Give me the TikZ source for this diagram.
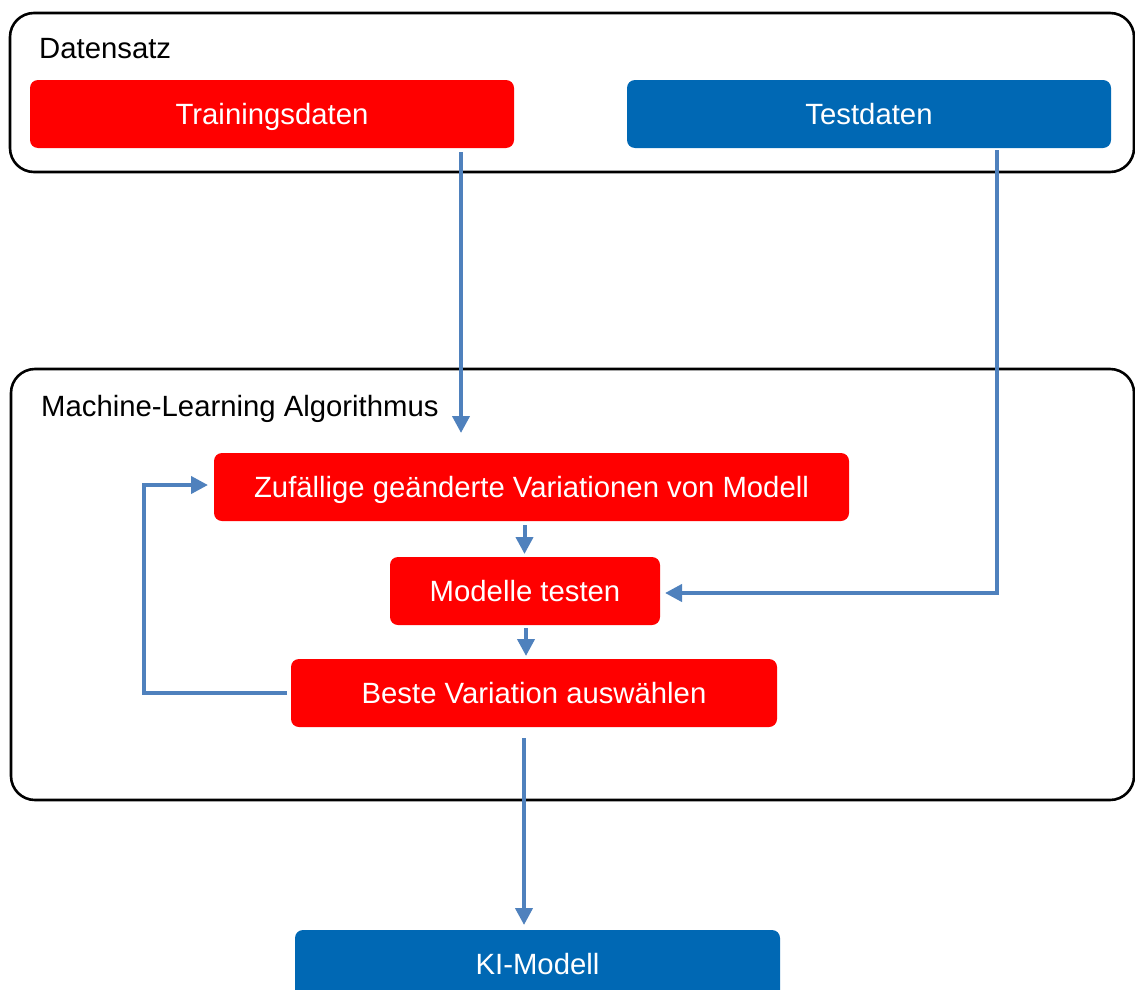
\documentclass[tikz,border=0pt]{standalone}
\usepackage{fontspec}
\setmainfont{Liberation Sans}
\usetikzlibrary{arrows.meta,calc}
\definecolor{bred}{RGB}{255,0,0}
\definecolor{bblue}{RGB}{0,104,180}
\definecolor{arrc}{RGB}{79,129,189}
\tikzset{
  container/.style={draw=black, line width=2.6pt, rounded corners=24pt, anchor=north west, inner sep=0pt, outer sep=0pt},
  boxtxt/.style={text=white, rounded corners=8pt, font=\fontsize{29.3}{34}\selectfont, inner sep=0pt, outer sep=0pt, text height=27pt, text depth=6pt},
  redbox/.style={boxtxt, fill=bred},
  bluebox/.style={boxtxt, fill=bblue},
  lbl/.style={font=\fontsize{29.3}{34}\selectfont, anchor=west, inner sep=0pt, text height=27pt, text depth=6pt},
  arr/.style={draw=arrc, line width=4pt, -{Triangle[width=17pt,length=17pt]}}
}
\begin{document}
\begin{tikzpicture}[x=1pt,y=-1pt]
\useasboundingbox (0,0) rectangle (1135,990);
\clip (0,0) rectangle (1135,990);
% containers
\node[container, minimum width=1124pt, minimum height=159pt] (ds) at (10,13) {};
\node[container, minimum width=1123pt, minimum height=431pt] (ml) at (11,369) {};
\node[lbl] (dslbl) at (39,48) {Datensatz};
\node[lbl] (mllbl) at (41,406) {Machine-Learning Algorithmus};
% boxes
\node[redbox, minimum width=484pt, minimum height=68pt] (train) at (272,114) {Trainingsdaten};
\node[bluebox, minimum width=484pt, minimum height=68pt] (test) at (869,114) {Testdaten};
\node[redbox, minimum width=635pt, minimum height=68pt] (zuf) at (531.5,487) {Zufällige geänderte Variationen von Modell};
\node[redbox, minimum width=270pt, minimum height=68pt] (mod) at (525,591) {Modelle testen};
\node[redbox, minimum width=486pt, minimum height=68pt] (best) at (534,693) {Beste Variation auswählen};
\node[bluebox, minimum width=485pt, minimum height=68pt] (ki) at (537.5,964) {KI-Modell};
% connector coordinates
\coordinate (a1s) at ($(train.south)+(189,4)$);
\coordinate (a1e) at ($(zuf.north)+(-70.5,-20)$);
\coordinate (a2s) at ($(test.south)+(128,2)$);
\coordinate (a2e) at ($(mod.east)+(5,2)$);
\coordinate (b1s) at ($(zuf.south)+(-7,4)$);
\coordinate (b1e) at ($(mod.north)+(-1,-3)$);
\coordinate (b2s) at ($(mod.south)+(1,3)$);
\coordinate (b2e) at ($(best.north)+(-7,-3)$);
\coordinate (ls) at ($(best.west)+(-4,0)$);
\coordinate (le) at ($(zuf.west)+(-6,-2)$);
\coordinate (cs) at ($(best.south)+(-10,11)$);
\coordinate (ce) at ($(ki.north)+(-13.5,-5)$);
% connectors
\draw[arr] (a1s) -- (a1s |- a1e);
\draw[arr] (a2s) |- (a2e);
\draw[arr] (b1s) -- (b1s |- b1e);
\draw[arr] (b2s) -- (b2s |- b2e);
\draw[arr] (ls) -- ++(-143,0) |- (le);
\draw[arr] (cs) -- (cs |- ce);
\end{tikzpicture}
\end{document}
